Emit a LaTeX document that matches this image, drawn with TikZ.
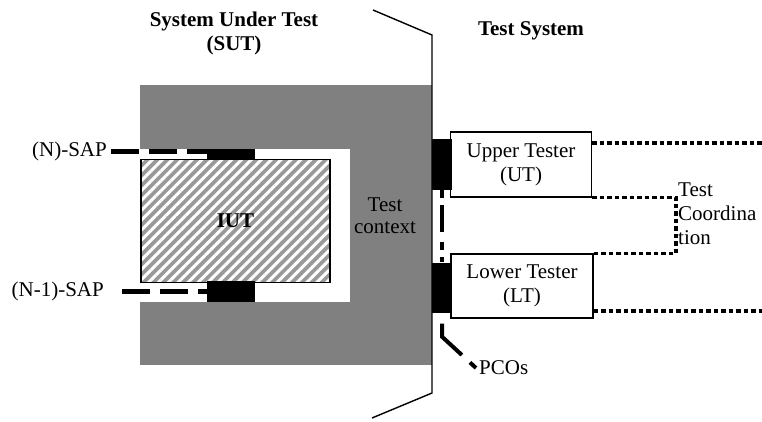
\documentclass[tikz,border=0pt]{standalone}
\usepackage{fontspec}
\setmainfont{Liberation Serif}
\usetikzlibrary{patterns.meta, calc}

\begin{document}
\begin{tikzpicture}[x=1pt, y=-1pt, font=\fontsize{21}{24}\selectfont,
  sapline/.style={line width=5pt, dash pattern=on 28pt off 10pt},
  pcoline/.style={line width=4pt, dash pattern=on 40pt off 11pt},
  coordline/.style={line width=3.8pt, dash pattern=on 4.5pt off 3pt},
  block/.style={fill=black, inner sep=0pt},
  tester/.style={draw, line width=1.1pt, fill=white, inner sep=0pt, align=center, minimum width=141pt, minimum height=65pt},
  iutbox/.style={draw, line width=1.1pt, preaction={fill=gray!80}, pattern={Lines[angle=45, distance=7pt, line width=3pt]}, pattern color=white, inner sep=0pt, minimum width=189pt, minimum height=123pt, font=\fontsize{21}{24}\selectfont\bfseries}]
\useasboundingbox (0,0) rectangle (762,421);
\fill[gray] (140,85) rectangle (432,365);
\fill[white] (140,149) rectangle (350,302);
\draw[line width=1.4pt] (373,10)--(432,35)--(432,393)--(372,418);
\path
(234,33) node[align=center, font=\fontsize{21}{24}\selectfont\bfseries]{System Under Test\\(SUT)};
\path
(531,31) node[font=\fontsize{21}{24}\selectfont\bfseries]{Test System};
\node[iutbox] (iut) at (235.5,221) {IUT};
\node[block, minimum width=48pt, minimum height=11pt] (nsap) at (231,154.5) {};
\node[block, minimum width=48pt, minimum height=21pt] (n1sap) at (231,291.5) {};
\node[anchor=east, inner sep=4pt] (nlab) at (111,151) {(N)-SAP};
\node[anchor=east, inner sep=4pt] (n1lab) at (108,291) {(N-1)-SAP};
\draw[sapline] (nlab.east) -- (nlab.east -| nsap.west);
\draw[sapline] ([xshift=14pt]n1lab.east) -- (n1lab.east -| n1sap.west);
\node[align=center, font=\fontsize{21}{22}\selectfont] (ctx) at (385,216) {Test\\context};
\node[tester] (ut) at (521,164.5) {Upper Tester\\(UT)};
\node[tester, minimum width=142pt, minimum height=64pt] (lt) at (522,286) {Lower Tester\\(LT)};
\node[block, minimum width=20pt, minimum height=51pt] (upco) at (442,164) {};
\node[block, minimum width=20pt, minimum height=50pt] (lpco) at (442,287.5) {};
\draw[line width=4.5pt, dash pattern=on 8pt off 7pt on 27pt off 10pt] (upco.south) -- (lpco.north);
\node[anchor=west, inner sep=3pt] (pcos) at (476,368) {PCOs};
\draw[pcoline, dash phase=40pt] (lpco.south) -- ++(0,24) -- (pcos.west);
\coordinate (uend) at (762,143);
\coordinate (lend) at (762,311);
\draw[coordline] (ut.east |- uend) -- (uend);
\draw[coordline] (lt.east |- lend) -- (lend);
\draw[coordline] (ut.south east) -- ++(84,0) |- (lt.north east);
\node[anchor=north west, align=left, inner sep=0pt, font=\fontsize{21}{24}\selectfont] (coord) at (678,183) {Test\\Coordina\\tion};
\end{tikzpicture}
\end{document}
